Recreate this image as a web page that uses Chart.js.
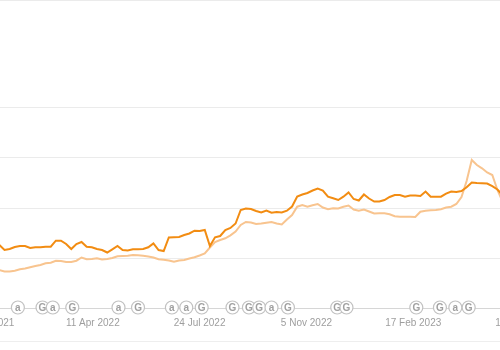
<!DOCTYPE html>
<html>
<head>
<meta charset="utf-8">
<script src="https://cdn.jsdelivr.net/npm/chart.js@4/dist/chart.umd.min.js"></script>
<style>
    body { margin: 0; background: #fff; }
    #chart-wrapper { position: relative; width: 500px; height: 341px; border-bottom: 1px solid #eeeeee; }
</style>
</head>
<body>
<div id="chart-wrapper"><canvas id="priceChart"></canvas></div>
<script>
// Price readings, one every 5 days from 10 Jan 2022
const firstSampleDate = '2022-01-10';
const sampleStepDays = 5;

const amazonPrices = [
    22.6, 21.6, 21.8, 22.2, 22.4, 22.4, 22.0, 22.14, 22.14, 22.26,
    22.26, 23.46, 23.46, 22.8, 21.8, 22.8, 23.2, 22.26, 22.14, 21.8,
    21.6, 21.1, 21.74, 22.4, 21.6, 21.5, 21.74, 21.74, 21.8, 22.14,
    22.9, 21.6, 21.4, 24.1, 24.14, 24.2, 24.6, 24.9, 25.46, 25.4,
    25.6, 22.4, 24.14, 24.4, 25.6, 26.0, 26.9, 29.6, 29.9, 29.8,
    29.4, 29.1, 29.5, 29.06, 29.2, 29.1, 29.46, 30.3, 32.3, 32.7,
    33.0, 33.5, 33.9, 33.5, 32.26, 31.94, 31.6, 32.26, 33.1, 31.8,
    31.5, 32.7, 31.9, 31.3, 31.3, 31.6, 32.2, 32.6, 32.6, 32.26,
    32.5, 32.5, 32.4, 33.3, 32.26, 32.26, 32.26, 32.86, 33.3, 33.2,
    33.4, 34.14, 35.1, 35.0, 34.94, 34.9, 34.36, 33.7, 32.6
];

const newOfferPrices = [
    17.6, 17.3, 17.3, 17.46, 17.74, 17.9, 18.14, 18.4, 18.6, 18.94,
    19.06, 19.46, 19.4, 19.2, 19.2, 19.46, 20.1, 19.74, 19.8, 19.94,
    19.7, 19.8, 20.0, 20.34, 20.4, 20.46, 20.6, 20.54, 20.44, 20.3,
    20.1, 19.74, 19.64, 19.5, 19.26, 19.5, 19.6, 19.9, 20.14, 20.5,
    20.9, 22.1, 23.2, 23.6, 23.94, 24.54, 25.3, 26.6, 27.2, 27.1,
    26.8, 26.9, 27.06, 27.2, 26.9, 26.7, 27.7, 28.6, 30.26, 30.6,
    30.26, 30.56, 30.8, 30.1, 29.74, 29.94, 29.9, 30.26, 30.5, 29.7,
    29.46, 29.7, 29.3, 28.9, 28.94, 28.94, 28.74, 28.34, 28.26, 28.26,
    28.26, 28.2, 29.26, 29.46, 29.54, 29.6, 29.74, 30.1, 30.26, 30.8,
    32.2, 35.4, 39.6, 38.6, 37.94, 37.1, 36.6, 33.6, 31.26
];

// Axis
const xTickDates = ['2021-12-28', '2022-04-11', '2022-07-24', '2022-11-05', '2023-02-17', '2023-06-01'];
const xRangeStart = '2022-01-11';
const xRangeEnd = '2023-05-12';
const yGridValues = [20, 30, 40, 50];
const yMin = 10;
const yMax = 71.6;

// Events on the timeline (a = Amazon, G = Google)
const eventDates = [
    '2022-01-28', '2022-02-21', '2022-03-03', '2022-03-22', '2022-05-06',
    '2022-05-25', '2022-06-27', '2022-07-11', '2022-07-26', '2022-08-25',
    '2022-09-10', '2022-09-20', '2022-10-02', '2022-10-18', '2022-12-05',
    '2022-12-14', '2023-02-20', '2023-03-15', '2023-03-30', '2023-04-12'
];
const eventTypes = [
    'a', 'G', 'a', 'G', 'a',
    'G', 'a', 'a', 'G', 'G',
    'G', 'G', 'a', 'G', 'G',
    'G', 'G', 'G', 'a', 'G'
];

const monthNames = ['Jan', 'Feb', 'Mar', 'Apr', 'May', 'Jun', 'Jul', 'Aug', 'Sep', 'Oct', 'Nov', 'Dec'];

function dayNum(str) {
    const [y, m, d] = str.split('-').map(Number);
    return Date.UTC(y, m - 1, d) / 86400000;
}

function formatDay(day) {
    const dt = new Date(Math.round(day) * 86400000);
    return `${dt.getUTCDate()} ${monthNames[dt.getUTCMonth()]} ${dt.getUTCFullYear()}`;
}

const startDay = dayNum(firstSampleDate);
const toPoints = (values) => values.map((v, i) => ({ x: startDay + i * sampleStepDays, y: v }));

const gridColor = '#ebebeb';
const tickColor = '#9e9e9e';

// Event markers sit on the bottom axis line
const eventIcons = {
    id: 'eventIcons',
    afterDraw(chart) {
        const ctx = chart.ctx;
        const xScale = chart.scales.x;
        const y = chart.chartArea.bottom - 0.5;
        ctx.save();
        eventDates.forEach((date, i) => {
            const x = xScale.getPixelForValue(dayNum(date));
            ctx.beginPath();
            ctx.arc(x, y, 6.5, 0, Math.PI * 2);
            ctx.fillStyle = '#ffffff';
            ctx.fill();
            ctx.strokeStyle = '#c2c2c2';
            ctx.lineWidth = 1.2;
            ctx.stroke();
            ctx.fillStyle = '#a0a0a0';
            ctx.font = 'bold 10px "Liberation Sans", Arial, sans-serif';
            ctx.textAlign = 'center';
            ctx.textBaseline = 'middle';
            ctx.fillText(eventTypes[i], x, y + 0.5);
        });
        ctx.restore();
    }
};

const ctx = document.getElementById('priceChart').getContext('2d');

const priceChart = new Chart(ctx, {
    type: 'line',
    data: {
        datasets: [
            {
                label: 'Amazon',
                data: toPoints(amazonPrices),
                borderColor: '#f28c12',
                borderWidth: 2,
                pointRadius: 0,
                tension: 0,
                fill: false
            },
            {
                label: 'New',
                data: toPoints(newOfferPrices),
                borderColor: '#f8c48f',
                borderWidth: 2,
                pointRadius: 0,
                tension: 0,
                fill: false
            }
        ]
    },
    options: {
        responsive: true,
        maintainAspectRatio: false,
        animation: false,
        layout: {
            autoPadding: false,
            padding: { left: 0, right: 0, top: 0, bottom: 3 }
        },
        scales: {
            x: {
                type: 'linear',
                min: dayNum(xRangeStart) - 0.4,
                max: dayNum(xRangeEnd) + 0.5,
                afterBuildTicks: (scale) => {
                    scale.ticks = xTickDates.map(d => ({ value: dayNum(d) }));
                },
                afterFit: (scale) => {
                    scale.paddingLeft = 0;
                    scale.paddingRight = 0;
                },
                ticks: {
                    autoSkip: false,
                    maxRotation: 0,
                    minRotation: 0,
                    padding: 9,
                    color: tickColor,
                    font: { family: '"Liberation Sans", Arial, sans-serif', size: 10 },
                    callback: (value) => formatDay(value)
                },
                grid: { display: false, drawTicks: false },
                border: { display: true, color: '#d6d6d6', width: 1 }
            },
            y: {
                min: yMin,
                max: yMax,
                afterBuildTicks: (scale) => {
                    scale.ticks = yGridValues.concat([yMax]).map(v => ({ value: v }));
                },
                ticks: { display: false },
                grid: { color: gridColor, drawTicks: false },
                border: { display: false }
            }
        },
        plugins: {
            legend: { display: false },
            tooltip: { enabled: false }
        }
    },
    plugins: [eventIcons]
});
</script>
</body>
</html>
